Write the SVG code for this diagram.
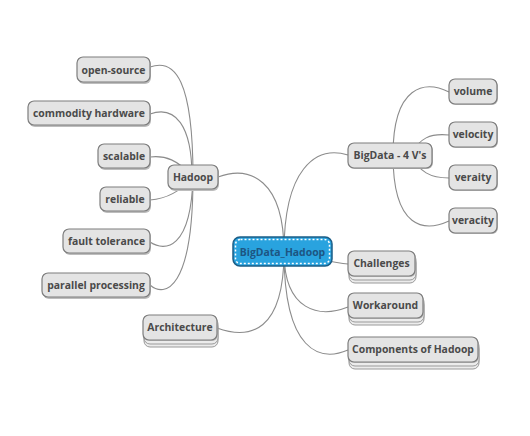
<svg xmlns="http://www.w3.org/2000/svg" width="530" height="436" viewBox="0 0 530 436">
<defs>
<style>
.n rect.b{fill:#e4e4e4;stroke:#7d7d7d;stroke-width:1.2}
.n rect.s{fill:#bdbdbd;stroke:none}
.n rect.k{fill:#ececec;stroke:#9a9a9a;stroke-width:1}
.n text{font-family:"Open Sans","Liberation Sans",sans-serif;font-size:10.4px;font-weight:bold;fill:#4a4a4a;text-anchor:middle}
.c path{fill:none;stroke:#8c8c8c;stroke-width:1.1}
</style>
</defs>
<rect width="530" height="436" fill="#fff"/>
<g class="c" id="connectors">
<path d="M284,252 C284,180 250,165 218,177"/>
<path d="M284,252 C284,332 250,340 217,328"/>
<path d="M284,252 C284,170 315,145 348,155"/>
<path d="M284,252 C315,256 330,263 348,264"/>
<path d="M284,252 C284,312 320,318 348,307"/>
<path d="M284,252 C284,352 320,362 348,350"/>
<path d="M193,177 C193,80 175,58 150,67"/>
<path d="M192,177 C192,125 175,105 150,114"/>
<path d="M193,177 C178,160 165,155 150,157"/>
<path d="M193,177 C180,192 165,199 150,200"/>
<path d="M193,177 C191,250 165,252 150,242"/>
<path d="M193,177 C193,290 165,298 150,285"/>
<path d="M393,155 C393,85 425,80 449,92"/>
<path d="M410,155 C420,138 430,133 449,135"/>
<path d="M410,155 C420,172 430,178 449,178"/>
<path d="M393,155 C393,230 425,232 449,221"/>
</g>
<g class="n" id="center">
<rect x="233" y="237" width="99" height="29" rx="7" fill="#29a3df" stroke="#1b5d86" stroke-width="1.5"/>
<rect x="235.5" y="239.5" width="94" height="24" rx="5" fill="none" stroke="#ffffff" stroke-width="1.5" stroke-dasharray="2,2"/>
<text x="282.5" y="255.5" style="fill:#1d5582">BigData_Hadoop</text>
</g>
<g class="n" id="hadoop">
<rect class="s" x="169" y="166" width="50" height="25" rx="6"/>
<rect class="b" x="168" y="165" width="50" height="24" rx="6"/>
<text x="193" y="181">Hadoop</text>
</g>
<g class="n" id="open-source">
<rect class="s" x="78" y="58" width="73" height="26" rx="6"/>
<rect class="b" x="77" y="57" width="73" height="25" rx="6"/>
<text x="113.5" y="73.5">open-source</text>
</g>
<g class="n" id="commodity">
<rect class="s" x="29" y="102" width="122" height="25" rx="6"/>
<rect class="b" x="28" y="101" width="122" height="24" rx="6"/>
<text x="89" y="117">commodity hardware</text>
</g>
<g class="n" id="scalable">
<rect class="s" x="99" y="145" width="52" height="25" rx="6"/>
<rect class="b" x="98" y="144" width="52" height="24" rx="6"/>
<text x="124" y="160">scalable</text>
</g>
<g class="n" id="reliable">
<rect class="s" x="101" y="188" width="50" height="25" rx="6"/>
<rect class="b" x="100" y="187" width="50" height="24" rx="6"/>
<text x="125" y="203">reliable</text>
</g>
<g class="n" id="fault">
<rect class="s" x="64" y="230" width="87" height="25" rx="6"/>
<rect class="b" x="63" y="229" width="87" height="24" rx="6"/>
<text x="106.5" y="245">fault tolerance</text>
</g>
<g class="n" id="parallel">
<rect class="s" x="43" y="274" width="108" height="25" rx="6"/>
<rect class="b" x="42" y="273" width="108" height="24" rx="6"/>
<text x="96" y="289">parallel processing</text>
</g>
<g class="n" id="architecture">
<rect class="k" x="144" y="321" width="74" height="26" rx="6"/>
<rect class="k" x="144" y="318" width="74" height="26" rx="6"/>
<rect class="s" x="144" y="316" width="74" height="25" rx="6"/>
<rect class="b" x="143" y="315" width="74" height="25" rx="6"/>
<text x="180" y="331">Architecture</text>
</g>
<g class="n" id="fourv">
<rect class="s" x="349" y="144" width="84" height="25" rx="6"/>
<rect class="b" x="348" y="143" width="84" height="25" rx="6"/>
<text x="390" y="159">BigData - 4 V's</text>
</g>
<g class="n" id="volume">
<rect class="s" x="450" y="80" width="48" height="25" rx="6"/>
<rect class="b" x="449" y="79" width="48" height="25" rx="6"/>
<text x="473" y="95">volume</text>
</g>
<g class="n" id="velocity">
<rect class="s" x="450" y="123" width="48" height="25" rx="6"/>
<rect class="b" x="449" y="122" width="48" height="25" rx="6"/>
<text x="473" y="138">velocity</text>
</g>
<g class="n" id="veraity">
<rect class="s" x="450" y="166" width="48" height="25" rx="6"/>
<rect class="b" x="449" y="165" width="48" height="25" rx="6"/>
<text x="473" y="181">veraity</text>
</g>
<g class="n" id="veracity">
<rect class="s" x="450" y="209" width="48" height="25" rx="6"/>
<rect class="b" x="449" y="208" width="48" height="25" rx="6"/>
<text x="473" y="224">veracity</text>
</g>
<g class="n" id="challenges">
<rect class="k" x="349" y="257" width="67" height="26" rx="6"/>
<rect class="k" x="349" y="254" width="67" height="26" rx="6"/>
<rect class="s" x="349" y="252" width="67" height="25" rx="6"/>
<rect class="b" x="348" y="251" width="67" height="25" rx="6"/>
<text x="381.5" y="267">Challenges</text>
</g>
<g class="n" id="workaround">
<rect class="k" x="349" y="299" width="75" height="26" rx="6"/>
<rect class="k" x="349" y="296" width="75" height="26" rx="6"/>
<rect class="s" x="349" y="294" width="75" height="25" rx="6"/>
<rect class="b" x="348" y="293" width="75" height="25" rx="6"/>
<text x="385.5" y="309">Workaround</text>
</g>
<g class="n" id="components">
<rect class="k" x="349" y="343" width="130" height="26" rx="6"/>
<rect class="k" x="349" y="340" width="130" height="26" rx="6"/>
<rect class="s" x="349" y="338" width="130" height="25" rx="6"/>
<rect class="b" x="348" y="337" width="130" height="25" rx="6"/>
<text x="413" y="353">Components of Hadoop</text>
</g>
</svg>
